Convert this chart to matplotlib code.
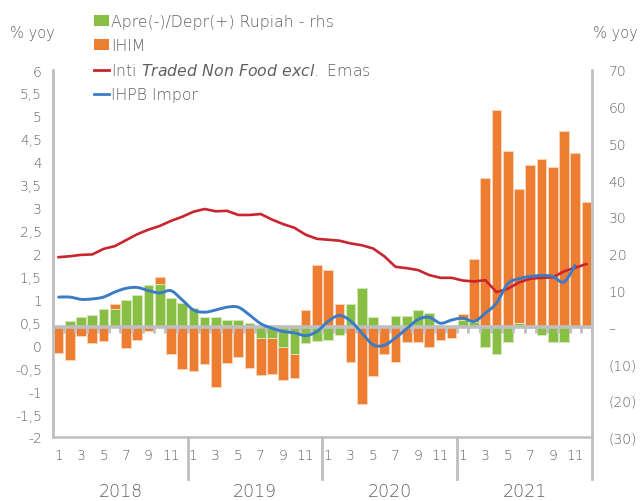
import numpy as np
import matplotlib
matplotlib.use("Agg")
import matplotlib.pyplot as plt
from matplotlib.patches import Patch
from matplotlib.lines import Line2D
import matplotlib.transforms as mtransforms
from matplotlib import font_manager

plt.rcParams['font.family'] = ['DejaVu Sans']
plt.rcParams['mathtext.fontset'] = 'dejavusans'
_has_light = any('ExtraLight' in f.name or 'ExtraLight' in f.fname for f in font_manager.fontManager.ttflist if 'DejaVu' in f.name)
if _has_light:
    plt.rcParams['font.weight'] = 'light'

# ---------------- data ----------------
years = ['2018', '2019', '2020', '2021']
month_labels = ['1', '', '3', '', '5', '', '7', '', '9', '', '11', '']

# IHIM (% yoy, left axis)
ihim = [-0.17, -0.32, 0.21, 0.05, 0.10, 0.91, -0.05, 0.12, 0.30, 1.48, -0.19, -0.52,
        -0.56, -0.40, -0.92, -0.39, -0.25, -0.50, -0.65, -0.63, -0.75, -0.72, 0.76, 1.76,
        1.63, 0.90, -0.37, -1.28, -0.68, -0.19, -0.37, 0.06, 0.07, -0.03, 0.11, 0.15,
        0.68, 1.88, 3.65, 5.13, 4.24, 3.40, 3.92, 4.05, 3.89, 4.66, 4.19, 3.13]

# Apre(-)/Depr(+) Rupiah (% yoy, right axis)
rupiah = [0.3, 1.5, 2.6, 3.3, 4.9, 4.9, 7.4, 8.6, 11.3, 11.7, 7.9, 6.5,
          5.2, 2.6, 2.6, 1.8, 1.8, 1.1, -3.0, -3.0, -5.6, -7.4, -4.4, -3.8,
          -3.5, -2.3, 6.3, 10.6, 2.8, 0.3, 3.1, 2.9, 4.5, 3.7, 0.5, 0.3,
          1.8, 1.2, -5.6, -7.4, -4.0, 1.1, -0.3, -2.3, -4.2, -4.0, 0.2, 0.2]

# Inti Traded Non Food excl. Emas (% yoy, left axis)
inti_traded = [1.92, 1.94, 1.97, 1.98, 2.10, 2.16, 2.29, 2.42, 2.52, 2.60, 2.71, 2.80,
               2.91, 2.97, 2.92, 2.93, 2.84, 2.84, 2.86, 2.74, 2.64, 2.56, 2.41, 2.32,
               2.30, 2.28, 2.22, 2.18, 2.11, 1.94, 1.71, 1.68, 1.64, 1.53, 1.47, 1.47,
               1.41, 1.39, 1.42, 1.16, 1.23, 1.37, 1.45, 1.47, 1.48, 1.61, 1.69, 1.77]

# IHPB Impor (% yoy, left axis) - ends Nov 2021
ihpb_impor = [1.05, 1.05, 1.00, 1.01, 1.05, 1.16, 1.24, 1.26, 1.19, 1.14, 1.19, 0.99,
              0.77, 0.72, 0.77, 0.83, 0.83, 0.66, 0.47, 0.37, 0.30, 0.27, 0.21, 0.30,
              0.52, 0.65, 0.53, 0.27, 0.01, 0.00, 0.16, 0.36, 0.56, 0.61, 0.48, 0.55,
              0.59, 0.52, 0.70, 0.92, 1.34, 1.45, 1.50, 1.52, 1.50, 1.38, 1.74]

left_ticks = [-2, -1.5, -1, -0.5, 0, 0.5, 1, 1.5, 2, 2.5, 3, 3.5, 4, 4.5, 5, 5.5, 6]
right_ticks = [-30, -20, -10, 0, 10, 20, 30, 40, 50, 60, 70]

# ---------------- style ----------------
C_OR = '#ED7D31'
C_GR = '#88BE43'
C_RED = '#C9252F'
C_BLUE = '#3A7CC5'
GRAY = '#BFBFBF'
TXT = '#5F5F5F'


def catmull_rom(xs, ys, n=16):
    xs = np.asarray(xs, float)
    ys = np.asarray(ys, float)
    px = np.concatenate([[2 * xs[0] - xs[1]], xs, [2 * xs[-1] - xs[-2]]])
    py = np.concatenate([[2 * ys[0] - ys[1]], ys, [2 * ys[-1] - ys[-2]]])
    outx, outy = [], []
    t = np.linspace(0, 1, n, endpoint=False)
    for i in range(1, len(px) - 2):
        for arr, out in ((px, outx), (py, outy)):
            p0, p1, p2, p3 = arr[i - 1], arr[i], arr[i + 1], arr[i + 2]
            m1 = (p2 - p0) / 2
            m2 = (p3 - p1) / 2
            h00 = 2 * t**3 - 3 * t**2 + 1
            h10 = t**3 - 2 * t**2 + t
            h01 = -2 * t**3 + 3 * t**2
            h11 = t**3 - t**2
            out.extend(h00 * p1 + h10 * m1 + h01 * p2 + h11 * m2)
    outx.append(xs[-1])
    outy.append(ys[-1])
    return np.array(outx), np.array(outy)


fig = plt.figure(figsize=(6.44, 5.02), dpi=100)
rect = [53 / 644, 1 - 438 / 502, 539 / 644, 367 / 502]
ax = fig.add_axes(rect)
ax2 = ax.twinx()
ax3 = fig.add_axes(rect, frameon=False)

n = len(ihim)
x = np.arange(n)
lo, hi = -2, 6
rlo, rhi = -30, 70
base = lo + (0 - rlo) / (rhi - rlo) * (hi - lo)  # left value where right axis is 0

for a in (ax, ax3):
    a.set_xlim(-0.5, n - 0.5)
    a.set_ylim(lo, hi)
ax2.set_ylim(rlo, rhi)

# bars
ihim_arr = np.array(ihim)
ax.bar(x, ihim_arr - base, bottom=base, width=0.86, color=C_OR,
       edgecolor='#F9D3B8', linewidth=0.7, zorder=2)
ax2.bar(x, rupiah, width=0.86, color=C_GR, edgecolor='#D2E8B8',
        linewidth=0.7, zorder=2)

# zero axis line with category ticks
ax2.axhline(0, color=GRAY, lw=2.6, zorder=4)
ax2.vlines(np.arange(n + 1) - 0.5, -1.6, 0, color=GRAY, lw=2.0, zorder=4)

# lines
ax3.plot(x, inti_traded, color=C_RED, lw=1.9, zorder=5, solid_joinstyle='round')
bx, by = catmull_rom(np.arange(len(ihpb_impor)), ihpb_impor)
ax3.plot(bx, by, color=C_BLUE, lw=2.1, zorder=5, solid_capstyle='round')
ax3.set_xticks([])
ax3.set_yticks([])

# spines
for a in (ax, ax2):
    a.spines['top'].set_visible(False)
ax.spines['right'].set_visible(False)
ax2.spines['left'].set_visible(False)
ax2.spines['bottom'].set_visible(False)
ax.spines['left'].set_color(GRAY)
ax.spines['left'].set_linewidth(2)
ax.spines['bottom'].set_color(GRAY)
ax.spines['bottom'].set_linewidth(1.8)
ax2.spines['right'].set_color(GRAY)
ax2.spines['right'].set_linewidth(2)

# left ticks
def fmt_left(v):
    return ('%g' % v).replace('.', ',')
ax.set_yticks(left_ticks)
ax.set_yticklabels([fmt_left(v) for v in left_ticks])
ax.tick_params(axis='y', length=0, pad=8, labelsize=10, labelcolor=TXT)

def fmt_right(v):
    if v == 0:
        return '–'
    if v < 0:
        return '(%d)' % abs(v)
    return '%d' % v
ax2.set_yticks(right_ticks)
ax2.set_yticklabels([fmt_right(v) for v in right_ticks])
ax2.tick_params(axis='y', length=0, pad=12, labelsize=10, labelcolor=TXT)

# x ticks: month labels
xt = [i for i in range(n) if month_labels[i % 12] != '']
ax.set_xticks(xt)
ax.set_xticklabels([month_labels[i % 12] for i in xt])
ax.tick_params(axis='x', length=0, pad=8, labelsize=10, labelcolor=TXT)

# year separators and labels
trans = mtransforms.blended_transform_factory(ax.transData, ax.transAxes)
for k in range(1, len(years) + 1):
    ax.plot([12 * k - 0.5, 12 * k - 0.5], [0, -0.115], transform=trans,
            color=GRAY, lw=2, clip_on=False)
for k, yr in enumerate(years):
    ax.text(12 * k + 5.5, -0.147, yr, transform=trans, ha='center', va='center',
            fontsize=12.5, color=TXT)

# unit labels
fig.text(32 / 644, 1 - 34 / 502, '% yoy', ha='center', va='center', fontsize=10.5, color=TXT)
fig.text(615 / 644, 1 - 34 / 502, '% yoy', ha='center', va='center', fontsize=10.5, color=TXT)

# legend
handles = [Patch(facecolor=C_GR, edgecolor='none'),
           Patch(facecolor=C_OR, edgecolor='none'),
           Line2D([], [], color=C_RED, lw=2),
           Line2D([], [], color=C_BLUE, lw=2)]
labels = ['Apre(-)/Depr(+) Rupiah - rhs', 'IHIM',
          r'Inti $\mathit{Traded\ Non\ Food\ excl.}$ Emas', 'IHPB Impor']
leg = fig.legend(handles, labels, loc='upper left',
                 bbox_to_anchor=(94 / 644, 1 - 15 / 502), frameon=False,
                 fontsize=11.3, handlelength=0.95, handleheight=0.7,
                 handletextpad=0.12, labelspacing=0.58, borderpad=0,
                 borderaxespad=0)
for t in leg.get_texts():
    t.set_color(TXT)

fig.savefig('out.png', dpi=100)
